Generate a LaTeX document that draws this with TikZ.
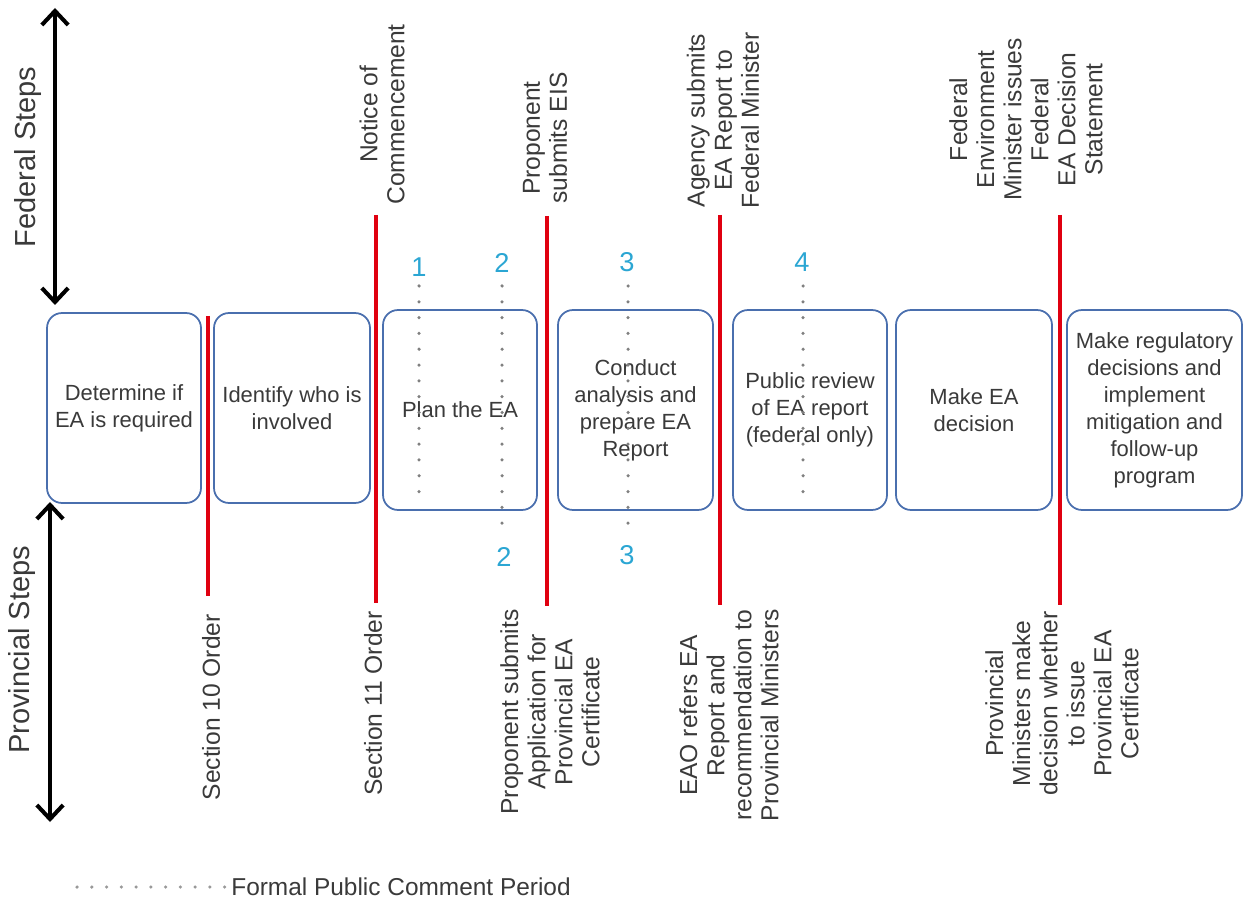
\documentclass[tikz,border=0pt]{standalone}
\usepackage{fontspec}
\setmainfont{Liberation Sans}
\usepackage{xcolor}
\usetikzlibrary{arrows.meta}

\definecolor{boxblue}{HTML}{4A6FAE}
\definecolor{markred}{HTML}{E00010}
\definecolor{numblue}{HTML}{2BA6D3}
\definecolor{txtgray}{HTML}{3A3A3A}

\tikzset{
  stepbox/.style={draw=boxblue, fill=white, line width=1pt, rounded corners=8.5pt,
    align=center, text=txtgray, font=\fontsize{12.5}{15.4}\selectfont, inner sep=2pt},
  milestone/.style={draw=markred, line width=2.3pt},
  toplabel/.style={rotate=90, anchor=west, align=center, inner sep=0pt,
    text=txtgray, font=\fontsize{14}{15.4}\selectfont},
  botlabel/.style={rotate=90, anchor=east, align=center, inner sep=0pt,
    text=txtgray, font=\fontsize{14}{15.4}\selectfont},
  sidelabel/.style={rotate=90, text=txtgray, font=\fontsize{16.5}{18}\selectfont},
  sidearrow/.style={{Straight Barb[length=8pt,width=15pt]}-{Straight Barb[length=8pt,width=15pt]}, line width=2.3pt},
  pubdots/.style={draw=gray, line width=2pt, line cap=round, dash pattern=on 0pt off 9pt},
  periodnum/.style={text=numblue, font=\fontsize{15.5}{15.5}\selectfont, inner sep=1pt},
}

\begin{document}
\begin{tikzpicture}[x=0.02cm, y=-0.02cm]
  \useasboundingbox (0,0) rectangle (1246,901);

  % Side arrows
  \coordinate (fedtop) at (55,8);
  \coordinate (fedbot) at (55,305);
  \coordinate (provtop) at (50,502);
  \coordinate (provbot) at (50,822);
  \draw[sidearrow] (fedtop) -- (fedbot);
  \draw[sidearrow] (provtop) -- (provbot);
  \node[sidelabel] (fedsteps) at (28,157) {Federal Steps};
  \node[sidelabel] (provsteps) at (22,650) {Provincial Steps};

  % Steps
  \node[stepbox, minimum width=3.08cm, minimum height=3.8cm] (determine) at (124,408) {Determine if\\EA is required};
  \node[stepbox, minimum width=3.12cm, minimum height=3.8cm] (identify) at (292,408) {Identify who is\\involved};
  \node[stepbox, minimum width=3.08cm, minimum height=4cm] (plan) at (460,410) {Plan the EA};
  \node[stepbox, minimum width=3.1cm, minimum height=4cm] (conduct) at (635.5,410) {Conduct\\analysis and\\prepare EA\\Report};
  \node[stepbox, minimum width=3.08cm, minimum height=4cm] (review) at (810,410) {Public review\\of EA report\\(federal only)};
  \node[stepbox, minimum width=3.12cm, minimum height=4cm] (decide) at (974,410) {Make EA\\decision};
  \node[stepbox, minimum width=3.5cm, minimum height=4cm] (regulate) at (1154.5,410) {Make regulatory\\decisions and\\implement\\mitigation and\\follow-up\\program};

  % Milestones
  \draw[milestone] (208,316) -- (208,596);
  \draw[milestone] (376,215) -- (376,603);
  \draw[milestone] (547,216) -- (547,606);
  \draw[milestone] (720,215) -- (720,605);
  \draw[milestone] (1060,215) -- (1060,605);

  % Federal labels
  \node[toplabel] (notice) at (382,205) {Notice of\\Commencement};
  \node[toplabel] (eis) at (545,204) {Proponent\\submits EIS};
  \node[toplabel] (agency) at (723,209) {Agency submits\\EA Report to\\Federal Minister};
  \node[toplabel] (fedmin) at (1026,201) {Federal\\Environment\\Minister issues\\Federal\\EA Decision\\Statement};

  % Provincial labels
  \node[botlabel] (sec10) at (211,614) {Section 10 Order};
  \node[botlabel] (sec11) at (373,611) {Section 11 Order};
  \node[botlabel] (application) at (550,609) {Proponent submits\\Application for\\Provincial EA\\Certificate};
  \node[botlabel] (eaorefers) at (729,609) {EAO refers EA\\Report and\\recommendation to\\Provincial Ministers};
  \node[botlabel] (provmin) at (1062,611) {Provincial\\Ministers make\\decision whether\\to issue\\Provincial EA\\Certificate};

  % Comment periods
  \node[periodnum] (p1) at (419,267) {1};
  \node[periodnum] (p2) at (502,263) {2};
  \node[periodnum] (p3) at (627,262) {3};
  \node[periodnum] (p4) at (802,262) {4};
  \node[periodnum] (q2) at (504,557) {2};
  \node[periodnum] (q3) at (627,555) {3};
  \draw[pubdots] (419,286) -- (419,503);
  \draw[pubdots] (502,286) -- (502,531);
  \draw[pubdots] (628,286) -- (628,531);
  \draw[pubdots] (803,286) -- (803,503);

  % Legend
  \node[anchor=west, inner sep=0pt, text=txtgray, font=\fontsize{13.9}{15}\selectfont] (legend) at (231,887) {Formal Public Comment Period};
  \coordinate (legstart) at (77,887);
  \draw[pubdots, draw=gray!80, dash pattern=on 0pt off 8.4pt] (legstart) -- (legend.west);
\end{tikzpicture}
\end{document}
